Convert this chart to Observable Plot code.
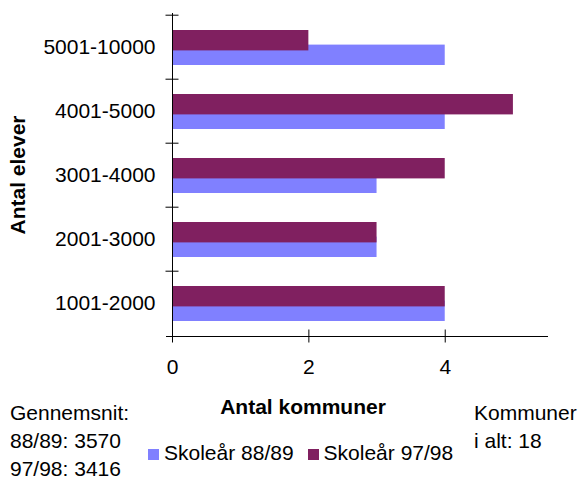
<!DOCTYPE html>
<html><head><meta charset="utf-8">
<script src="https://cdn.jsdelivr.net/npm/d3@7"></script>
<script src="https://cdn.jsdelivr.net/npm/@observablehq/plot@0.6"></script>
<style>
body{margin:0;background:#fff;font-family:"Liberation Sans",Arial,sans-serif;}
#wrap{position:relative;width:581px;height:480px;overflow:hidden;}
#chart{position:absolute;left:0;top:0;}
.t{position:absolute;font-size:21px;line-height:28px;color:#000;white-space:nowrap;}
.sw{display:inline-block;width:11px;height:11px;margin-right:5px;vertical-align:0px;}
</style></head><body>
<div id="wrap">
  <div id="chart"></div>
  <div class="t" id="ytitle" style="left:18px;top:175px;font-weight:bold;transform:translate(-50%,-50%) rotate(-90deg);"></div>
  <div class="t" id="xtitle" style="left:303px;top:393px;font-weight:bold;transform:translateX(-50%);"></div>
  <div class="t" id="avg" style="left:10px;top:399px;"></div>
  <div class="t" id="legend" style="left:148px;top:439px;"></div>
  <div class="t" id="total" style="left:474px;top:399px;"></div>
</div>
<script>
const categories = ["5001-10000", "4001-5000", "3001-4000", "2001-3000", "1001-2000"];
const values8889 = [4, 4, 3, 3, 4];
const values9798 = [2, 5, 4, 3, 4];
const seriesNames = ["Skoleår 88/89", "Skoleår 97/98"];
const seriesColors = ["#8080ff", "#802060"];
const xTicks = [0, 2, 4];
const xTitle = "Antal kommuner";
const yTitle = "Antal elever";
const avgLines = ["Gennemsnit:", "88/89: 3570", "97/98: 3416"];
const totalLines = ["Kommuner", "i alt: 18"];

const data8889 = categories.map((c, i) => ({cat: c, v: values8889[i]}));
const data9798 = categories.map((c, i) => ({cat: c, v: values9798[i]}));

const W = 581, H = 390, mT = 13, mB = 54, mL = 172, mR = 34;
const bw = (H - mT - mB) / categories.length;
const barH = 21;
const font = "'Liberation Sans', Arial, sans-serif";

const chart = Plot.plot({
  width: W, height: H,
  marginTop: mT, marginBottom: mB, marginLeft: mL, marginRight: mR,
  style: {fontFamily: font, fontSize: "21px", color: "#000", background: "#fff"},
  x: {domain: [0, 5.5]},
  y: {domain: categories, padding: 0},
  marks: [
    Plot.barX(data8889, {x: "v", y: "cat", fill: seriesColors[0], insetTop: bw - 14 - barH, insetBottom: 14}),
    Plot.barX(data9798, {x: "v", y: "cat", fill: seriesColors[1], insetTop: 15, insetBottom: bw - 15 - barH}),
    Plot.ruleX([0], {stroke: "#000", strokeWidth: 1}),
    Plot.frame({anchor: "bottom", stroke: "#000", insetLeft: -6}),
    Plot.axisY({tickSize: 13, dx: 6.5, dy: -bw / 2, tickFormat: () => "", label: null, stroke: "#000"}),
    Plot.axisY({tickSize: 0, tickPadding: 17, fontSize: 21, label: null}),
    Plot.axisX({ticks: xTicks, tickSize: 13, dy: -6.5, tickFormat: () => "", label: null, stroke: "#000"}),
    Plot.axisX({ticks: xTicks, tickSize: 0, tickPadding: 23, fontSize: 21, tickFormat: d3.format("d"), label: null})
  ]
});
document.getElementById("chart").appendChild(chart);
document.getElementById("ytitle").textContent = yTitle;
document.getElementById("xtitle").textContent = xTitle;
document.getElementById("avg").innerHTML = avgLines.join("<br>");
document.getElementById("total").innerHTML = totalLines.join("<br>");
document.getElementById("legend").innerHTML = seriesNames.map((n, i) =>
  `<span class="sw" style="background:${seriesColors[i]}"></span>${n}`).join('<span style="display:inline-block;width:14px"></span>');
</script>
</body></html>
